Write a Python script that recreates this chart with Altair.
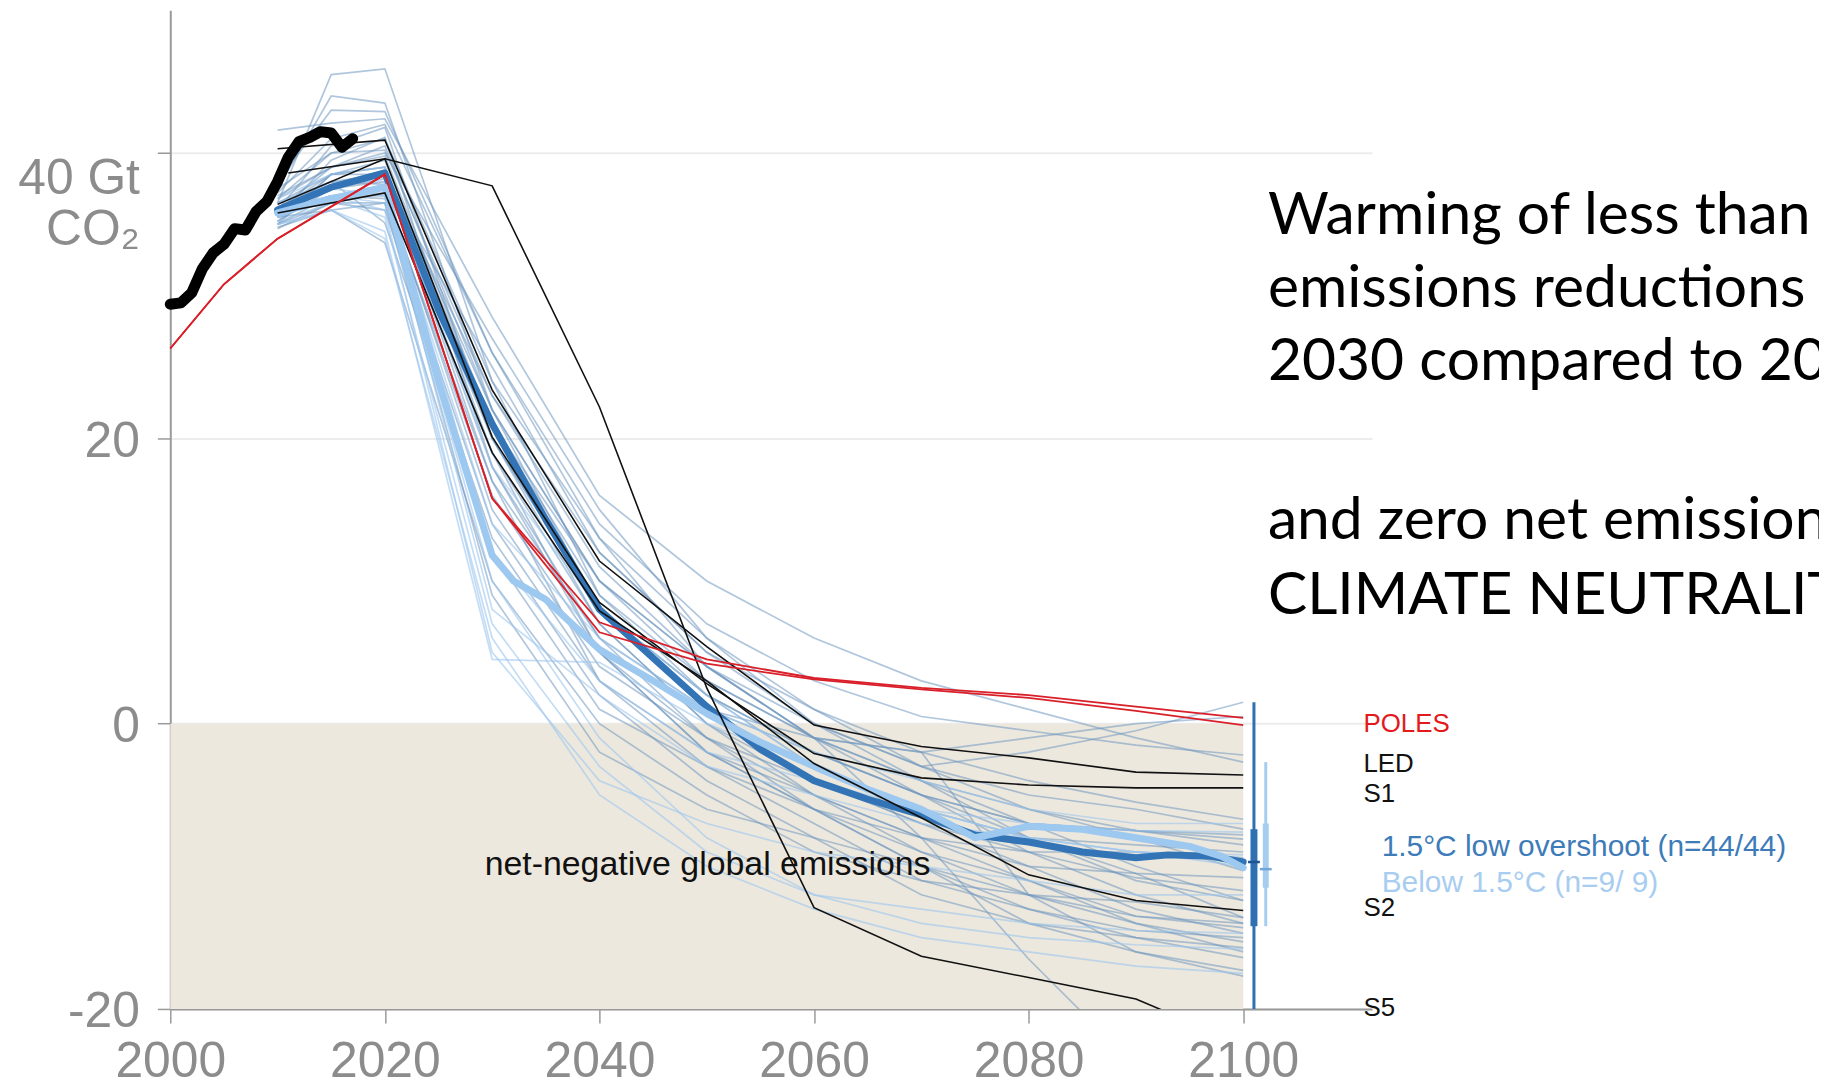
import altair as alt
import pandas as pd

# ---------------- data ----------------
HIST_YEARS = list(range(2000, 2018))
HIST_VALUES = [29.4, 29.5, 30.2, 31.9, 33.0, 33.6, 34.7, 34.6, 35.9, 36.6,
               38.0, 39.7, 40.8, 41.1, 41.5, 41.4, 40.4, 41.0]

POLES_YEARS = [2000, 2005, 2010, 2020, 2030, 2040, 2050, 2060, 2070, 2080, 2090, 2100]
POLES_A = [26.3, 30.8, 34.0, 38.5, 15.8, 7.1, 4.5, 3.2, 2.5, 2.0, 1.2, 0.4]
POLES_B = [26.3, 30.8, 34.0, 38.5, 15.8, 6.4, 4.2, 3.1, 2.4, 1.8, 0.9, -0.1]

PATH_YEARS = [2010, 2020, 2030, 2040, 2050, 2060, 2070, 2080, 2090, 2100]
LED = [40.3, 40.9, 23.4, 11.4, 5.4, -0.1, -1.6, -2.4, -3.4, -3.6]
S1 = [36.4, 39.6, 20.1, 8.5, 2.8, -2.1, -3.8, -4.3, -4.5, -4.5]
S2 = [35.8, 37.2, 19.0, 7.9, 3.0, -2.8, -6.6, -10.6, -12.4, -13.1]
S5_YEARS = [2011, 2020, 2030, 2040, 2050, 2060, 2070, 2080, 2090, 2100]
S5 = [38.6, 39.6, 37.7, 22.2, 2.5, -12.9, -16.3, -17.8, -19.3, -22.5]

MED_LOW_YEARS = [2010, 2015, 2020, 2025, 2030, 2035, 2040, 2045, 2050, 2055,
                 2060, 2065, 2070, 2075, 2080, 2085, 2090, 2093, 2097, 2100]
MED_LOW = [36.0, 37.6, 38.6, 29.0, 21.0, 14.3, 8.0, 4.6, 1.2, -1.8,
           -4.0, -5.3, -6.4, -7.8, -8.3, -9.0, -9.4, -9.2, -9.3, -9.7]
MED_BELOW_YEARS = [2010, 2015, 2020, 2025, 2030, 2032, 2035, 2040, 2045, 2050, 2055,
                   2060, 2065, 2070, 2075, 2080, 2085, 2090, 2095, 2098, 2100]
MED_BELOW = [35.8, 36.8, 37.6, 24.0, 11.8, 10.0, 8.7, 5.2, 3.0, 0.7, -1.3,
             -3.0, -4.6, -6.0, -8.0, -7.2, -7.4, -8.0, -8.6, -9.3, -10.1]

THIN_YEARS = [2010, 2015, 2020, 2030, 2040, 2050, 2060, 2070, 2080, 2090, 2100]
THIN_LOW = [
    [36.5, 45.5, 45.9, 24.0, 9.0, 3.0, -1.0, -4.0, -7.0, -10.0, -12.4],
    [37.5, 44.0, 43.5, 22.0, 8.0, 2.0, -2.0, -5.0, -8.0, -10.5, -13.6],
    [38.0, 43.0, 42.9, 26.0, 14.0, 7.0, 3.0, 0.5, -0.5, -1.5, -2.2],
    [41.6, 42.1, 42.4, 28.5, 16.0, 10.0, 6.0, 3.0, 1.0, -1.0, -2.7],
    [36.0, 40.5, 41.8, 20.0, 7.0, 0.0, -5.0, -9.0, -12.0, -14.0, -15.3],
    [35.5, 39.5, 41.1, 18.0, 5.0, -2.0, -6.0, -10.0, -13.0, -15.0, -16.4],
    [36.8, 40.0, 40.2, 23.0, 11.0, 4.0, -1.0, -5.0, -9.0, -12.0, -14.0],
    [35.2, 38.5, 39.0, 21.0, 9.0, 2.0, -3.0, -6.0, -8.0, -8.5, -9.0],
    [36.2, 38.0, 38.5, 17.0, 6.0, 1.0, -2.0, -5.0, -7.0, -7.5, -7.8],
    [35.0, 37.0, 37.5, 15.0, 4.0, -1.0, -4.0, -7.0, -10.0, -13.0, -14.7],
    [34.7, 36.5, 36.0, 14.0, 3.0, -2.0, -6.0, -10.0, -14.0, -16.0, -17.3],
    [35.8, 37.5, 38.0, 25.0, 12.0, 5.0, 1.0, -2.0, -4.0, -5.5, -6.7],
    [37.0, 39.0, 40.0, 27.0, 15.0, 6.0, 0.0, -4.0, -8.0, -11.0, -12.4],
    [36.5, 38.0, 35.1, 13.0, 2.0, -4.0, -8.0, -12.0, -14.0, -15.0, -15.7],
    [35.5, 36.0, 33.7, 10.0, 0.0, -5.0, -9.0, -11.0, -12.0, -12.5, -13.6],
    [36.0, 39.0, 40.5, 22.0, 10.0, 4.0, -1.0, -8.0, -16.5, -24.0, -26.0],
    [35.0, 38.5, 39.5, 20.0, 8.0, 1.0, -1.0, -2.0, -12.0, -16.0, -17.7],
    [37.5, 40.0, 41.0, 24.0, 13.0, 6.0, 1.0, -3.0, -6.0, -8.0, -10.3],
    [35.5, 37.0, 37.0, 16.0, 5.0, -1.0, -5.0, -8.0, -10.0, -10.5, -10.8],
    [36.0, 38.5, 39.0, 19.0, 7.0, 0.0, -4.0, -7.0, -9.0, -10.8, -11.7],
    [35.2, 37.5, 38.2, 18.0, 6.0, -1.0, -6.0, -9.0, -11.0, -13.5, -14.3],
    [36.8, 39.0, 39.8, 21.0, 10.0, 4.0, 0.0, -3.0, -5.0, -6.0, -7.4],
    [35.0, 36.5, 36.5, 12.0, 1.0, -3.0, -7.0, -11.0, -13.0, -14.5, -15.0],
    [36.5, 38.5, 38.5, 23.0, 12.0, 5.0, 0.0, -3.0, -2.0, -0.5, 1.5],
    [35.8, 37.0, 36.8, 17.0, 3.0, -3.0, -6.0, -8.0, -9.0, -9.0, -9.4],
    [36.2, 38.0, 37.8, 20.0, 8.0, 2.0, -2.0, -5.0, -7.0, -7.5, -8.1],
    [37.2, 41.0, 42.0, 26.0, 13.0, 4.0, -1.0, -4.0, -6.0, -7.5, -8.5],
    [34.8, 36.0, 36.5, 9.0, -2.0, -6.0, -8.0, -10.0, -12.0, -13.5, -14.0],
    [35.5, 37.8, 38.8, 22.0, 10.0, 3.0, -1.0, -2.0, -1.0, 0.0, 0.5],
    [36.0, 37.0, 37.2, 19.0, 5.0, -2.0, -5.0, -8.0, -11.0, -14.0, -16.0],
]
THIN_BELOW = [
    [35.5, 37.0, 36.0, 5.0, -4.0, -7.0, -9.0, -10.0, -11.0, -12.0, -12.0],
    [36.0, 37.5, 37.0, 8.0, 2.0, -3.0, -5.0, -7.0, -8.0, -9.0, -9.4],
    [35.0, 36.0, 34.5, 4.5, 4.3, 0.0, -3.0, -6.0, -8.0, -9.0, -10.0],
    [36.5, 38.0, 38.0, 12.0, 3.0, -2.0, -4.0, -6.0, -7.0, -7.5, -7.6],
    [35.8, 37.0, 36.5, 10.0, -1.0, -8.0, -12.0, -14.0, -15.0, -15.5, -15.8],
    [35.2, 36.5, 37.2, 14.0, 6.0, 1.0, -2.0, -4.0, -6.0, -7.0, -7.0],
    [36.8, 38.5, 39.0, 18.0, 8.0, 2.0, -3.0, -6.0, -8.0, -9.0, -9.2],
    [35.5, 36.8, 35.5, 7.0, -3.0, -9.0, -12.0, -13.0, -14.0, -14.5, -14.7],
    [35.0, 36.0, 34.0, 6.0, -5.0, -10.0, -13.0, -15.0, -16.0, -17.0, -17.5],
]

# 2100 range bars (thin = full range, thick = interquartile, tick = median)
BAR_X = [2101.0, 2102.1]
BAR_MIN = [-20.0, -14.2]
BAR_MAX = [1.5, -2.7]
BAR_Q1 = [-14.2, -11.5]
BAR_Q3 = [-7.4, -7.0]
BAR_MED = [-9.7, -10.2]
BAR_COLORS = ["#2f70b3", "#a6cdf0"]

SHADE_X = [2000, 2100]
SHADE_Y = [-20, 0]

SCEN_LABELS = ["POLES", "LED", "S1", "S2", "S5"]
SCEN_Y = [-0.58, -3.42, -5.51, -13.49, -20.47]
SCEN_COLORS = ["#e3191c", "#111111", "#111111", "#111111", "#111111"]
SCEN_X = 2111.2

LEGEND_LABELS = ["1.5°C low overshoot (n=44/44)", "Below 1.5°C (n=9/ 9)"]
LEGEND_Y = [-9.3, -11.77]
LEGEND_COLORS = ["#3d7bb9", "#a8cdf0"]
LEGEND_X = 2112.9

NOTE_TEXT = ["net-negative global emissions"]
NOTE_X = [2029.3]
NOTE_Y = [-10.59]

SIDE_TEXT = ["Warming of less than 1.5°C requires",
             "emissions reductions of 45% by",
             "2030 compared to 2010",
             "and zero net emissions by 2050",
             "CLIMATE NEUTRALITY"]
SIDE_Y = [34.33, 29.21, 24.09, 12.93, 7.70]
SIDE_X = 2102.3

# ---------------- helpers ----------------
X_SCALE = alt.Scale(domain=[2000, 2112], nice=False, zero=False)
Y_SCALE = alt.Scale(domain=[-20, 50], nice=False, zero=False)

X_AXIS = alt.Axis(values=[2000, 2020, 2040, 2060, 2080, 2100], format="d", title=None,
                  grid=False, labelFont="Liberation Sans", labelFontSize=50,
                  labelColor="#8c8c8c", labelBaseline="alphabetic", labelPadding=54,
                  labelFlush=False, labelOverlap=False, tickSize=14, tickWidth=1.5,
                  tickColor="#9a9a9a", domainColor="#9a9a9a", domainWidth=2)
Y_AXIS = alt.Axis(values=[-20, 0, 20, 40], title=None, grid=True, gridColor="#ececec",
                  gridWidth=2, labelFont="Liberation Sans", labelFontSize=50,
                  labelColor="#8c8c8c", labelBaseline="middle", labelAlign="right",
                  labelPadding=18, labelLineHeight=51,
                  labelOffset={"condition": {"test": "datum.value == 40", "value": 26}, "value": 3},
                  labelExpr="datum.value == 40 ? ['40 Gt', 'CO\u2082'] : toString(datum.value)",
                  labelOverlap=False, labelFlush=False, tickSize=13, tickWidth=1.5,
                  tickColor="#9a9a9a", domainColor="#9a9a9a", domainWidth=2)


def X(field):
    return alt.X(field, type="quantitative", scale=X_SCALE, axis=X_AXIS)


def Y(field):
    return alt.Y(field, type="quantitative", scale=Y_SCALE, axis=Y_AXIS)


def series(name, years, values):
    return pd.DataFrame({"id": name, "year": years, "value": values})


# ---------------- layers ----------------
shade_df = pd.DataFrame({"x": [SHADE_X[0]], "x2": [SHADE_X[1]], "y": [SHADE_Y[0]], "y2": [SHADE_Y[1]]})
shade = alt.Chart(shade_df).mark_rect(color="#ede8de").encode(
    x=X("x"), x2="x2", y=Y("y"), y2="y2")

thin_low_df = pd.concat([series(f"low{i}", THIN_YEARS, v) for i, v in enumerate(THIN_LOW)])
thin_below_df = pd.concat([series(f"below{i}", THIN_YEARS, v) for i, v in enumerate(THIN_BELOW)])

thin_low = alt.Chart(thin_low_df).mark_line(
    color="#6f98c0", opacity=0.55, strokeWidth=1.7, clip=True).encode(
    x=X("year"), y=Y("value"), detail="id:N")
thin_below = alt.Chart(thin_below_df).mark_line(
    color="#9cc6ee", opacity=0.6, strokeWidth=1.7, clip=True).encode(
    x=X("year"), y=Y("value"), detail="id:N")

med_low = alt.Chart(series("med_low", MED_LOW_YEARS, MED_LOW)).mark_line(
    color="#3274b5", strokeWidth=7, strokeJoin="round", strokeCap="round").encode(
    x=X("year"), y=Y("value"))
med_below = alt.Chart(series("med_below", MED_BELOW_YEARS, MED_BELOW)).mark_line(
    color="#9dc8f0", strokeWidth=7, strokeJoin="round", strokeCap="round").encode(
    x=X("year"), y=Y("value"))

black_df = pd.concat([series("LED", PATH_YEARS, LED), series("S1", PATH_YEARS, S1),
                      series("S2", PATH_YEARS, S2), series("S5", S5_YEARS, S5)])
black = alt.Chart(black_df).mark_line(color="#111111", strokeWidth=1.6, clip=True).encode(
    x=X("year"), y=Y("value"), detail="id:N")

red_df = pd.concat([series("POLES_a", POLES_YEARS, POLES_A), series("POLES_b", POLES_YEARS, POLES_B)])
red = alt.Chart(red_df).mark_line(color="#d9202a", strokeWidth=1.8).encode(
    x=X("year"), y=Y("value"), detail="id:N")

hist = alt.Chart(series("hist", HIST_YEARS, HIST_VALUES)).mark_line(
    color="#000000", strokeWidth=11, strokeJoin="round", strokeCap="round").encode(
    x=X("year"), y=Y("value"))

bar_rows = []
for i in range(2):
    bar_rows.append({"x": BAR_X[i], "y": BAR_MIN[i], "y2": BAR_MAX[i], "w": 3, "c": BAR_COLORS[i]})
    bar_rows.append({"x": BAR_X[i], "y": BAR_Q1[i], "y2": BAR_Q3[i], "w": 7 if i == 0 else 6, "c": BAR_COLORS[i]})
bars = alt.Chart(pd.DataFrame(bar_rows)).mark_rule().encode(
    x=X("x"), y=Y("y"), y2="y2",
    size=alt.Size("w:Q", scale=None, legend=None),
    color=alt.Color("c:N", scale=None, legend=None))

med_df = pd.DataFrame({"x": [b - 0.55 for b in BAR_X], "x2": [b + 0.55 for b in BAR_X],
                       "y": BAR_MED, "c": ["#1d5390", "#6fa6da"]})
med_ticks = alt.Chart(med_df).mark_rule(strokeWidth=2.5).encode(
    x=X("x"), x2="x2", y=Y("y"), color=alt.Color("c:N", scale=None, legend=None))

scen_df = pd.DataFrame({"x": SCEN_X, "y": SCEN_Y, "t": SCEN_LABELS, "c": SCEN_COLORS})
scen_text = alt.Chart(scen_df).mark_text(
    align="left", baseline="alphabetic", font="Liberation Sans", fontSize=26).encode(
    x=X("x"), y=Y("y"), text="t:N", color=alt.Color("c:N", scale=None, legend=None))

leg_df = pd.DataFrame({"x": LEGEND_X, "y": LEGEND_Y, "t": LEGEND_LABELS, "c": LEGEND_COLORS})
leg_text = alt.Chart(leg_df).mark_text(
    align="left", baseline="alphabetic", font="Liberation Sans", fontSize=30).encode(
    x=X("x"), y=Y("y"), text="t:N", color=alt.Color("c:N", scale=None, legend=None))

note_df = pd.DataFrame({"x": NOTE_X, "y": NOTE_Y, "t": NOTE_TEXT})
note_text = alt.Chart(note_df).mark_text(
    align="left", baseline="alphabetic", font="Liberation Sans", fontSize=34,
    color="#111111").encode(x=X("x"), y=Y("y"), text="t:N")

side_df = pd.DataFrame({"x": SIDE_X, "y": SIDE_Y, "t": SIDE_TEXT})
side_text = alt.Chart(side_df).mark_text(
    align="left", baseline="alphabetic", font="Lato", fontSize=59,
    color="#000000").encode(x=X("x"), y=Y("y"), text="t:N")

chart = alt.layer(
    shade, thin_low, thin_below, med_low, med_below, black, red, hist,
    bars, med_ticks, scen_text, leg_text, note_text, side_text
).properties(
    width=1207, height=1003,
    autosize=alt.AutoSizeParams(type="none"),
    padding={"left": 163, "top": 0, "right": 449, "bottom": 70},
    background="#ffffff",
).configure_view(stroke=None)

chart.save("out.html", embed_options={"renderer": "svg", "actions": False})
